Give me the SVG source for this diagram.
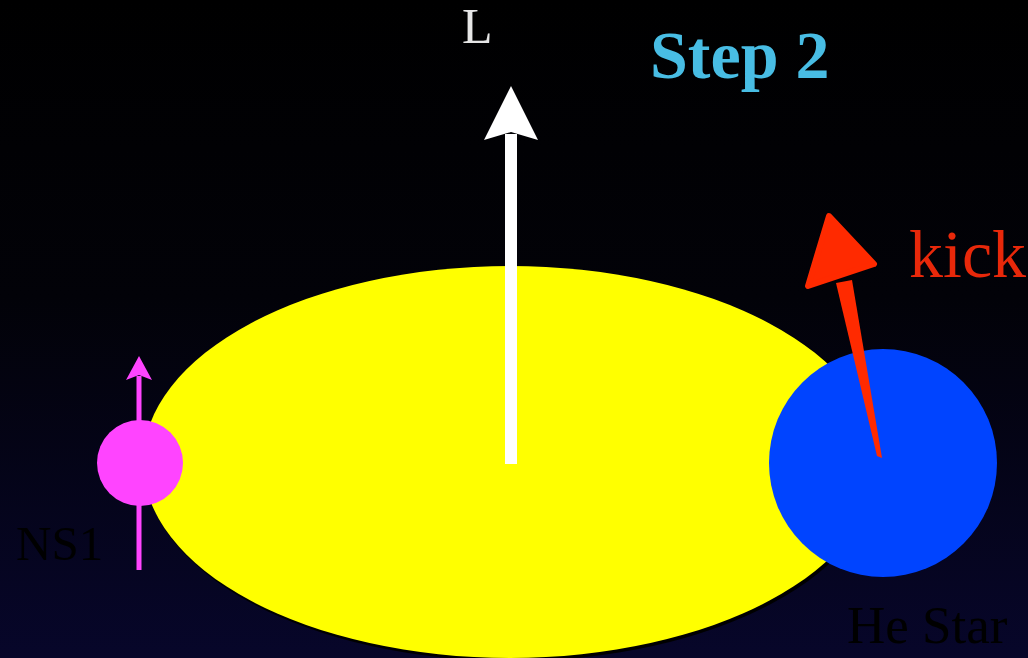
<svg xmlns="http://www.w3.org/2000/svg" width="1028" height="658" viewBox="0 0 1028 658">
<defs>
<linearGradient id="bg" x1="0" y1="0" x2="0" y2="1">
<stop offset="0" stop-color="#000000"/>
<stop offset="0.45" stop-color="#020208"/>
<stop offset="1" stop-color="#07062a"/>
</linearGradient>
<style>
.serif{font-family:"Liberation Serif","Times New Roman",serif}
.dark{fill:#000000}
</style>
</defs>
<rect width="1028" height="658" fill="url(#bg)"/>
<g id="orbit">
<ellipse cx="512" cy="464" rx="368" ry="197" fill="#000000"/>
<ellipse cx="510" cy="462" rx="367" ry="196" fill="#ffff00"/>
</g>
<g id="ns1">
<line x1="139" y1="570" x2="139" y2="376" stroke="#ff44ff" stroke-width="5"/>
<polygon points="139,356 152,380 139,375 126,380" fill="#ff44ff"/>
<circle cx="140" cy="463" r="43" fill="#ff44ff"/>
<text class="serif dark" x="16" y="560" font-size="49">NS1</text>
</g>
<g id="he-star">
<circle cx="883" cy="463" r="114" fill="#0044ff"/>
<text class="serif dark" x="847" y="643" font-size="53">He Star</text>
</g>
<g id="connectors">
<g id="L-arrow">
<rect x="505" y="134" width="12" height="330" fill="#ffffff"/>
<polygon points="511,86 538,140 511,132 484,140" fill="#ffffff"/>
</g>
<g id="kick-arrow">
<polygon points="836,283 852,280 882,458 877,456" fill="#ff2a00"/>
<polygon points="829,216 874,264 808,286" fill="#ff2a00" stroke="#ff2a00" stroke-width="6" stroke-linejoin="round"/>
</g>
</g>
<text class="serif" x="462" y="43" font-size="50" fill="#e6e6e6">L</text>
<text class="serif" x="650" y="78" font-size="68" font-weight="bold" fill="#48bde4">Step 2</text>
<text class="serif" x="909" y="277" font-size="68" fill="#e8280a">kick</text>
</svg>
